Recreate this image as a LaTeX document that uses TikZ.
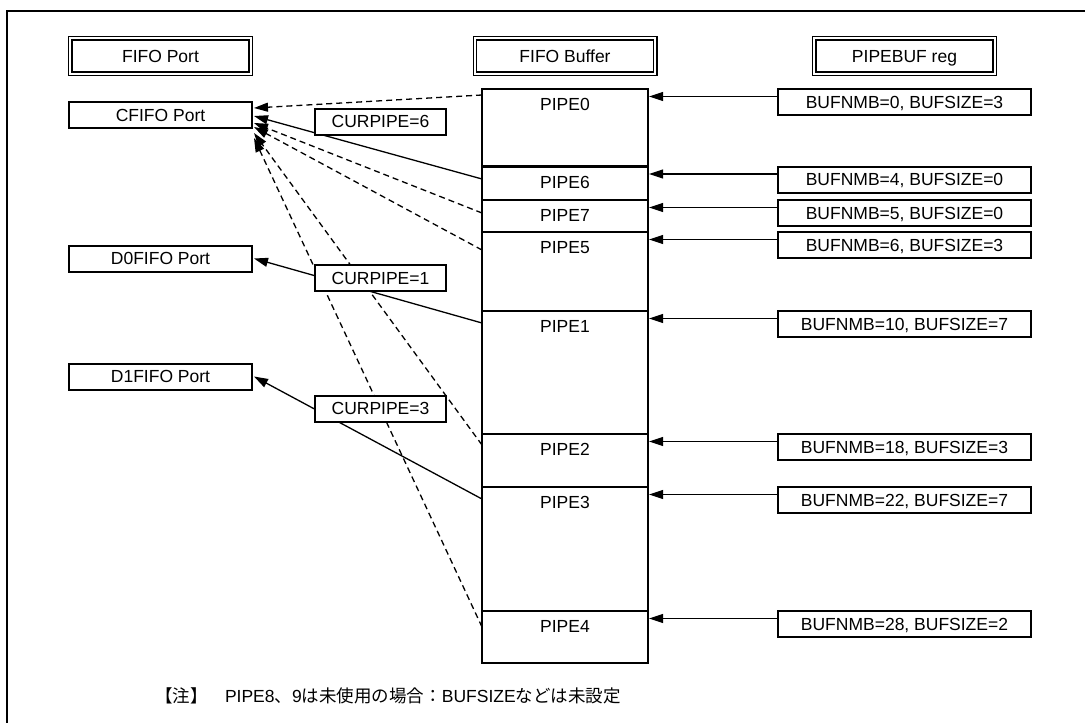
\documentclass[tikz,border=0pt]{standalone}
\usepackage{fontspec}
\setmainfont{Liberation Sans}
\newfontfamily\cjk{Noto Sans CJK JP}
\usetikzlibrary{arrows.meta}
\begin{document}
\begin{tikzpicture}[x=1pt,y=-1pt,
  every node/.style={inner sep=0pt, outer sep=0pt, font=\fontsize{17.5}{21}\selectfont, text height=12.5pt, text depth=0pt},
  hdr/.style={draw, line width=1.4pt, double, double distance=2pt, minimum width=180.2pt, minimum height=35.2pt},
  port/.style={draw, line width=2pt, minimum width=183pt, minimum height=26pt},
  cur/.style={draw, line width=2pt, fill=white, minimum width=131pt, minimum height=26pt},
  reg/.style={draw, line width=2pt, minimum width=253pt, minimum height=26pt, anchor=north},
  seg/.style={draw, line width=2.2pt, minimum width=166pt, anchor=north},
  lbl/.style={anchor=north, yshift=-9.25pt},
  conn/.style={line width=1.3pt, -{Triangle[length=14pt,width=9pt]}},
  dconn/.style={conn, dash pattern=on 6pt off 4pt},
]
\useasboundingbox (0,0) rectangle (1085,723);
\clip (0,0) rectangle (1085,723);
\fill[white] (0,0) rectangle (1085,723);
% frame
\draw[line width=2.3pt] (7,760) -- (7,11) -- (1120,11);

% headers
\node[hdr] (h1) at (160.5,56) {FIFO Port};
\node[hdr] (h2) at (565,56) {FIFO Buffer};
\node[hdr] (h3) at (904.5,56) {PIPEBUF reg};

% ports
\node[port] (cfifo) at (160.5,115) {CFIFO Port};
\node[port] (d0) at (160.5,258.5) {D0FIFO Port};
\node[port] (d1) at (160.5,376.5) {D1FIFO Port};

% buffer segments
\node[seg, minimum height=77.5pt] (p0) at (565,89) {};
\node[seg, minimum height=33.5pt] (p6) at (565,166.5) {};
\node[seg, minimum height=32pt] (p7) at (565,200) {};
\node[seg, minimum height=79pt] (p5) at (565,232) {};
\node[seg, minimum height=123pt] (p1) at (565,311) {};
\node[seg, minimum height=53pt] (p2) at (565,434) {};
\node[seg, minimum height=124pt] (p3) at (565,487) {};
\node[seg, minimum height=52pt] (p4) at (565,611) {};

\node[lbl] (l0) at (p0.north) {PIPE0};
\node[lbl] (l6) at (p6.north) {PIPE6};
\node[lbl] (l7) at (p7.north) {PIPE7};
\node[lbl] (l5) at (p5.north) {PIPE5};
\node[lbl] (l1) at (p1.north) {PIPE1};
\node[lbl] (l2) at (p2.north) {PIPE2};
\node[lbl] (l3) at (p3.north) {PIPE3};
\node[lbl] (l4) at (p4.north) {PIPE4};

% registers
\node[reg] (r0) at (904.5,89) {BUFNMB=0, BUFSIZE=3};
\node[reg] (r6) at (904.5,166.5) {BUFNMB=4, BUFSIZE=0};
\node[reg] (r7) at (904.5,200) {BUFNMB=5, BUFSIZE=0};
\node[reg] (r5) at (904.5,232) {BUFNMB=6, BUFSIZE=3};
\node[reg] (r1) at (904.5,311) {BUFNMB=10, BUFSIZE=7};
\node[reg] (r2) at (904.5,434) {BUFNMB=18, BUFSIZE=3};
\node[reg] (r3) at (904.5,487) {BUFNMB=22, BUFSIZE=7};
\node[reg] (r4) at (904.5,611) {BUFNMB=28, BUFSIZE=2};

\foreach \i in {0,6,7,5,1,2,3,4}{
  \draw[conn] ([yshift=-7.5pt]r\i.north west) -- ([xshift=1.1pt,yshift=-7.5pt]p\i.north east);
}

% arrow targets at CFIFO
\coordinate (t0) at ([xshift=2pt,yshift=7pt]cfifo.east);
\coordinate (t6) at ([xshift=2pt,yshift=-1pt]cfifo.east);
\coordinate (t7) at ([xshift=2pt,yshift=-8pt]cfifo.east);
\coordinate (t5) at ([xshift=2pt,yshift=-12pt]cfifo.east);
\coordinate (t2) at ([xshift=2pt,yshift=-18pt]cfifo.east);
\coordinate (t4) at ([xshift=2pt,yshift=-23pt]cfifo.east);

\draw[dconn] ([yshift=-6pt]p0.north west) -- (t0);
\draw[conn] ([yshift=-12.5pt]p6.north west) -- (t6);
\draw[dconn] ([yshift=-13pt]p7.north west) -- (t7);
\draw[dconn] ([yshift=-18pt]p5.north west) -- (t5);
\draw[dconn] ([yshift=-11pt]p2.north west) -- (t2);
\draw[dconn] ([yshift=-16pt]p4.north west) -- (t4);
\draw[conn] ([yshift=-12pt]p1.north west) -- ([xshift=2pt]d0.east);
\draw[conn] ([yshift=-12pt]p3.north west) -- ([xshift=2pt]d1.east);

% CURPIPE boxes on top
\node[cur] (c6) at (380.5,121.5) {CURPIPE=6};
\node[cur] (c1) at (380.5,278) {CURPIPE=1};
\node[cur] (c3) at (380.5,408.5) {CURPIPE=3};

% note
\node[anchor=base west] (note) at (155,702.5) {{\cjk 【注】　}PIPE8{\cjk 、}9{\cjk は未使用の場合：}BUFSIZE{\cjk などは未設定}};
\end{tikzpicture}
\end{document}
